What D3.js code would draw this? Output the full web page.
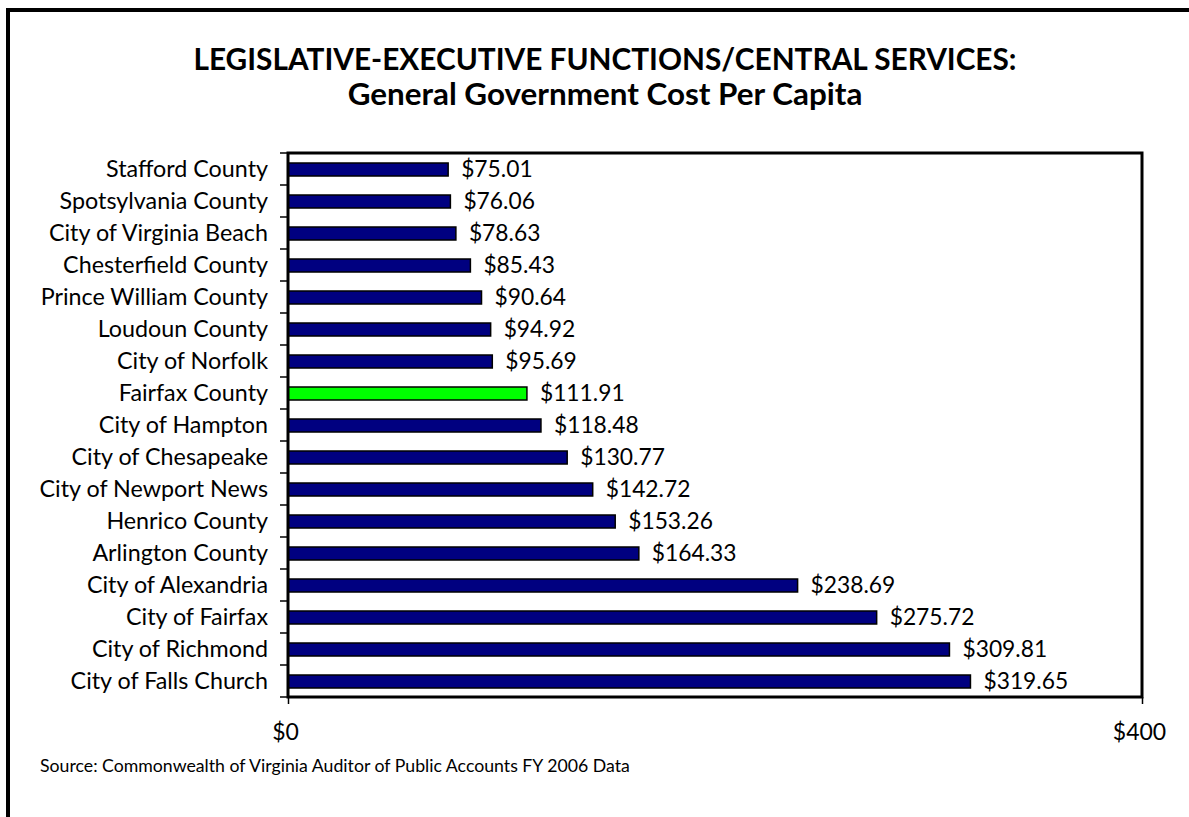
<!DOCTYPE html>
<html><head><meta charset="utf-8">
<script src="https://cdn.jsdelivr.net/npm/d3@7"></script>
<style>body{margin:0;background:#fff;} svg{display:block;}</style>
</head><body>
<script>
const categories = ["Stafford County","Spotsylvania County","City of Virginia Beach","Chesterfield County","Prince William County","Loudoun County","City of Norfolk","Fairfax County","City of Hampton","City of Chesapeake","City of Newport News","Henrico County","Arlington County","City of Alexandria","City of Fairfax","City of Richmond","City of Falls Church"];
const values = [75.01,76.06,78.63,85.43,90.64,94.92,95.69,111.91,118.48,130.77,142.72,153.26,164.33,238.69,275.72,309.81,319.65];
const highlight = ["Fairfax County"];
const xTicks = [0,400];
const titleLines = ["LEGISLATIVE-EXECUTIVE FUNCTIONS/CENTRAL SERVICES:","General Government Cost Per Capita"];
const sourceText = "Source: Commonwealth of Virginia Auditor of Public Accounts FY 2006 Data";

const W=1189,H=817;
const font = "Lato, 'Open Sans', sans-serif";
const svg = d3.select("body").append("svg").attr("width",W).attr("height",H);

// frame
svg.append("path").attr("d","M8,817 V10 H1189").attr("fill","none").attr("stroke","#000").attr("stroke-width",4);

// title
svg.append("text").attr("x",605).attr("y",70).attr("text-anchor","middle")
  .attr("font-family",font).attr("font-weight","bold").attr("font-size",29.8).text(titleLines[0]);
svg.append("text").attr("x",605).attr("y",105).attr("text-anchor","middle")
  .attr("font-family",font).attr("font-weight","bold").attr("font-size",31.4).text(titleLines[1]);

const x = d3.scaleLinear().domain([0,400]).range([288,1142]);
const y = d3.scaleBand().domain(categories).range([153,697]).paddingInner(0).paddingOuter(0);
const bh = 13;

const g = svg.append("g");
g.selectAll("rect.bar").data(categories).join("rect")
  .attr("x",x(0)).attr("y",d=>y(d)+y.bandwidth()/2-bh/2+0.5)
  .attr("width",(d,i)=>x(values[i])-x(0)).attr("height",bh)
  .attr("fill",d=>highlight.includes(d)?"#00ff00":"#000080")
  .attr("stroke","#000").attr("stroke-width",1.5);

// value labels
g.selectAll("text.val").data(categories).join("text")
  .attr("x",(d,i)=>x(values[i])+13).attr("y",d=>y(d)+y.bandwidth()/2)
  .attr("dy","0.36em").attr("font-family",font).attr("font-size",22.8).attr("fill","#000")
  .text((d,i)=>"$"+values[i].toFixed(2));

// plot box
svg.append("rect").attr("x",288).attr("y",153).attr("width",1142-288).attr("height",697-153)
  .attr("fill","none").attr("stroke","#000").attr("stroke-width",3);

// y axis
const yAxis = d3.axisLeft(y).tickSize(0).tickPadding(20);
const ya = svg.append("g").attr("transform","translate(288,0)").call(yAxis);
ya.select(".domain").remove();
ya.selectAll("text").attr("font-family",font).attr("font-size",23.3).attr("fill","#000").attr("dy","0.34em");
// boundary ticks
const bounds = categories.map(d=>y(d)).concat([y.range()[1]]);
svg.append("g").selectAll("line").data(bounds).join("line")
  .attr("x1",280).attr("x2",288).attr("y1",d=>d).attr("y2",d=>d).attr("stroke","#000").attr("stroke-width",1.5);

// x axis
const xAxis = d3.axisBottom(x).tickValues(xTicks).tickSize(7).tickPadding(20).tickFormat(d=>"$"+d);
const xa = svg.append("g").attr("transform","translate(0,697)").call(xAxis);
xa.select(".domain").remove();
xa.selectAll("line").attr("stroke-width",1.5);
xa.selectAll("text").attr("font-family",font).attr("font-size",23).attr("fill","#000").attr("dx",-3);

// source
svg.append("text").attr("x",40).attr("y",772).attr("font-family",font).attr("font-size",17.7).text(sourceText);
</script>
</body></html>
